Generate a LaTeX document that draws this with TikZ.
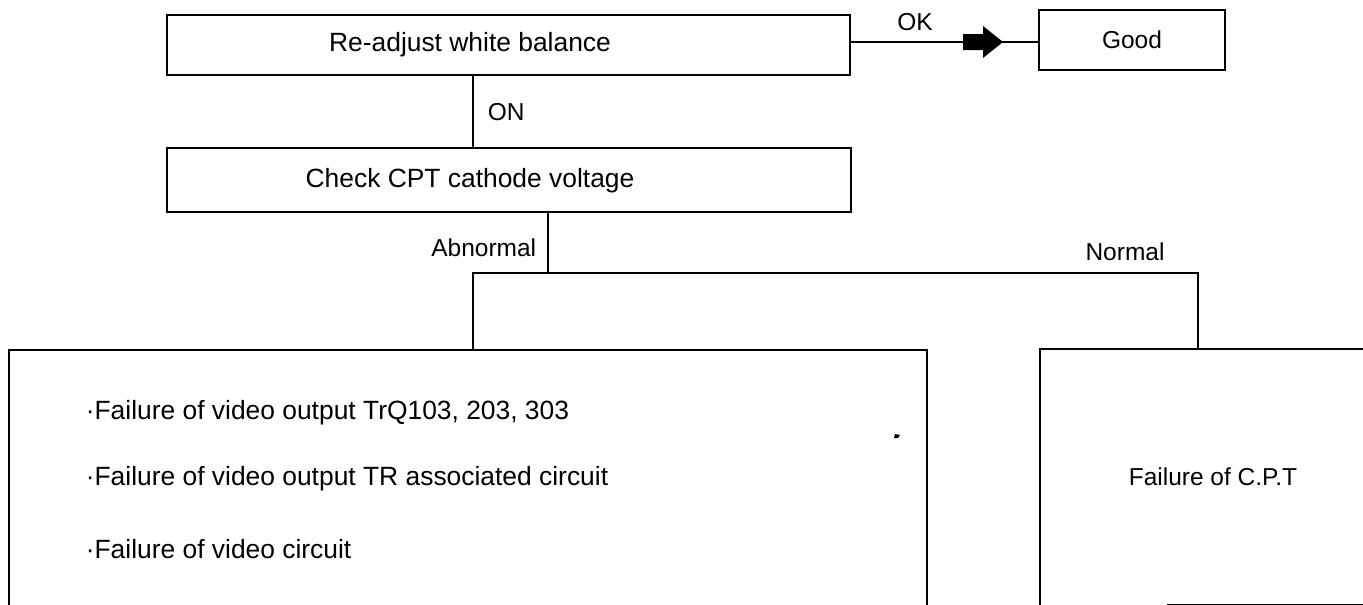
\documentclass[tikz,border=0pt]{standalone}
\usepackage{fontspec}
\setmainfont{Liberation Sans}
\newcommand\boxfont{\fontsize{26.4}{30}\selectfont}
\newcommand\labfont{\fontsize{24.5}{28}\selectfont}
\begin{document}
\begin{tikzpicture}[x=1pt,y=-1pt,line width=1.6pt,
  box/.style={draw, inner sep=0pt, font=\boxfont},
  txt/.style={inner sep=0pt, font=\boxfont},
  lbl/.style={inner sep=0pt, font=\labfont}]
\useasboundingbox (0,0) rectangle (1363,605);
\clip (0,0) rectangle (1363,605);
% boxes
\node[box, minimum width=683pt, minimum height=60pt] (b1) at (508.5,45) {};
\node[txt] (t1) at (470,45) {Re-adjust white balance};
\node[box, font=\labfont, minimum width=186pt, minimum height=60pt] (good) at (1132,40) {Good};
\node[box, minimum width=684pt, minimum height=64pt] (b2) at (509,180) {};
\node[txt] (t2) at (470,181) {Check CPT cathode voltage};
\node[box, minimum width=918pt, minimum height=280pt, anchor=north west] (lb) at (8,349) {};
\node[inner sep=0pt, minimum width=340pt, minimum height=254pt, anchor=north west] (rb) at (1040,349) {};
\node[lbl] (t3) at (1213,477) {Failure of C.P.T};
\node[txt, anchor=west] (l1) at (85,413) {{\char"00B7}Failure of video output TrQ103, 203, 303};
\node[txt, anchor=west] (l2) at (85,479) {{\char"00B7}Failure of video output TR associated circuit};
\node[txt, anchor=west] (l3) at (85,549) {{\char"00B7}Failure of video circuit};
\fill (895,434) -- (900,435) -- (898,438) -- (894,438) -- cycle;
% right box outline (open at the bottom left)
\draw (rb.south west) -- (rb.north west) -- (rb.north east);
\coordinate (xb) at (1167,0);
\draw (xb |- rb.south) -- (rb.south east);
% connectors
\coordinate (yok) at (0,42);
\draw (b1.east |- yok) -- (good.west |- yok);
\fill (963,34) -- (983,34) -- (983,26) -- (1003,42) -- (983,58) -- (983,50) -- (963,50) -- cycle;
\node[lbl] (ok) at (915,22) {OK};
\coordinate (xa) at (473,0);
\coordinate (xab) at (548,0);
\coordinate (xn) at (1198,0);
\coordinate (yh) at (0,273);
\draw (xa |- b1.south) -- (xa |- b2.north);
\node[lbl, anchor=west] (on) at (487,112) {ON};
\draw (xab |- b2.south) -- (xab |- yh);
\node[lbl, anchor=east] (ab) at (537,248) {Abnormal};
\draw (xa |- lb.north) -- (xa |- yh) -- (xn |- yh) -- (xn |- rb.north);
\node[lbl] (nm) at (1125,252) {Normal};
\end{tikzpicture}
\end{document}
